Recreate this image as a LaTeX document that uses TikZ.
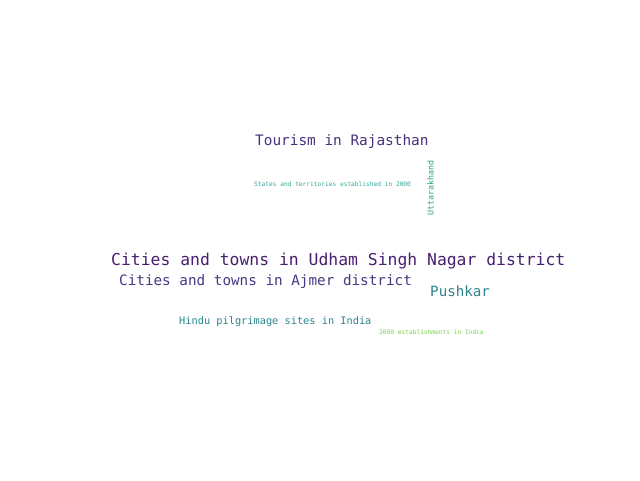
\documentclass[tikz,border=0pt]{standalone}
\usepackage{fontspec}
\newfontfamily\cloudfont{DejaVu Sans Mono}
\definecolor{cUdham}{HTML}{481F70}
\definecolor{cTour}{HTML}{46327E}
\definecolor{cAjmer}{HTML}{443A83}
\definecolor{cPush}{HTML}{2E818E}
\definecolor{cHindu}{HTML}{2A8490}
\definecolor{cStates}{HTML}{35A89A}
\definecolor{cUtt}{HTML}{28A08A}
\definecolor{cEst}{HTML}{7AD151}
\tikzset{word/.style={inner sep=0pt, anchor=base west, font=\cloudfont}}
\begin{document}
\begin{tikzpicture}[x=1pt,y=-1pt]
\useasboundingbox[fill=white] (0,0) rectangle (640,480);
\node[word, text=cTour, font=\cloudfont\fontsize{14.4}{16}\selectfont] (tour) at (255,145.5) {Tourism in Rajasthan};
\node[word, text=cStates, font=\cloudfont\fontsize{6.2}{7}\selectfont] (states) at (254,186.5) {States and territories established in 2000};
\node[word, text=cUtt, rotate=90, font=\cloudfont\fontsize{8.3}{9}\selectfont] (utt) at (433.5,216) {Uttarakhand};
\node[word, text=cUdham, font=\cloudfont\fontsize{16.4}{18}\selectfont] (udham) at (111,265.5) {Cities and towns in Udham Singh Nagar district};
\node[word, text=cAjmer, font=\cloudfont\fontsize{14.3}{16}\selectfont] (ajmer) at (119,285.5) {Cities and towns in Ajmer district};
\node[word, text=cPush, font=\cloudfont\fontsize{14.2}{16}\selectfont] (push) at (430,296.5) {Pushkar};
\node[word, text=cHindu, font=\cloudfont\fontsize{10.3}{12}\selectfont] (hindu) at (179,324) {Hindu pilgrimage sites in India};
\node[word, text=cEst, font=\cloudfont\fontsize{6.2}{7}\selectfont] (est) at (379,334.5) {2000 establishments in India};
\end{tikzpicture}
\end{document}
